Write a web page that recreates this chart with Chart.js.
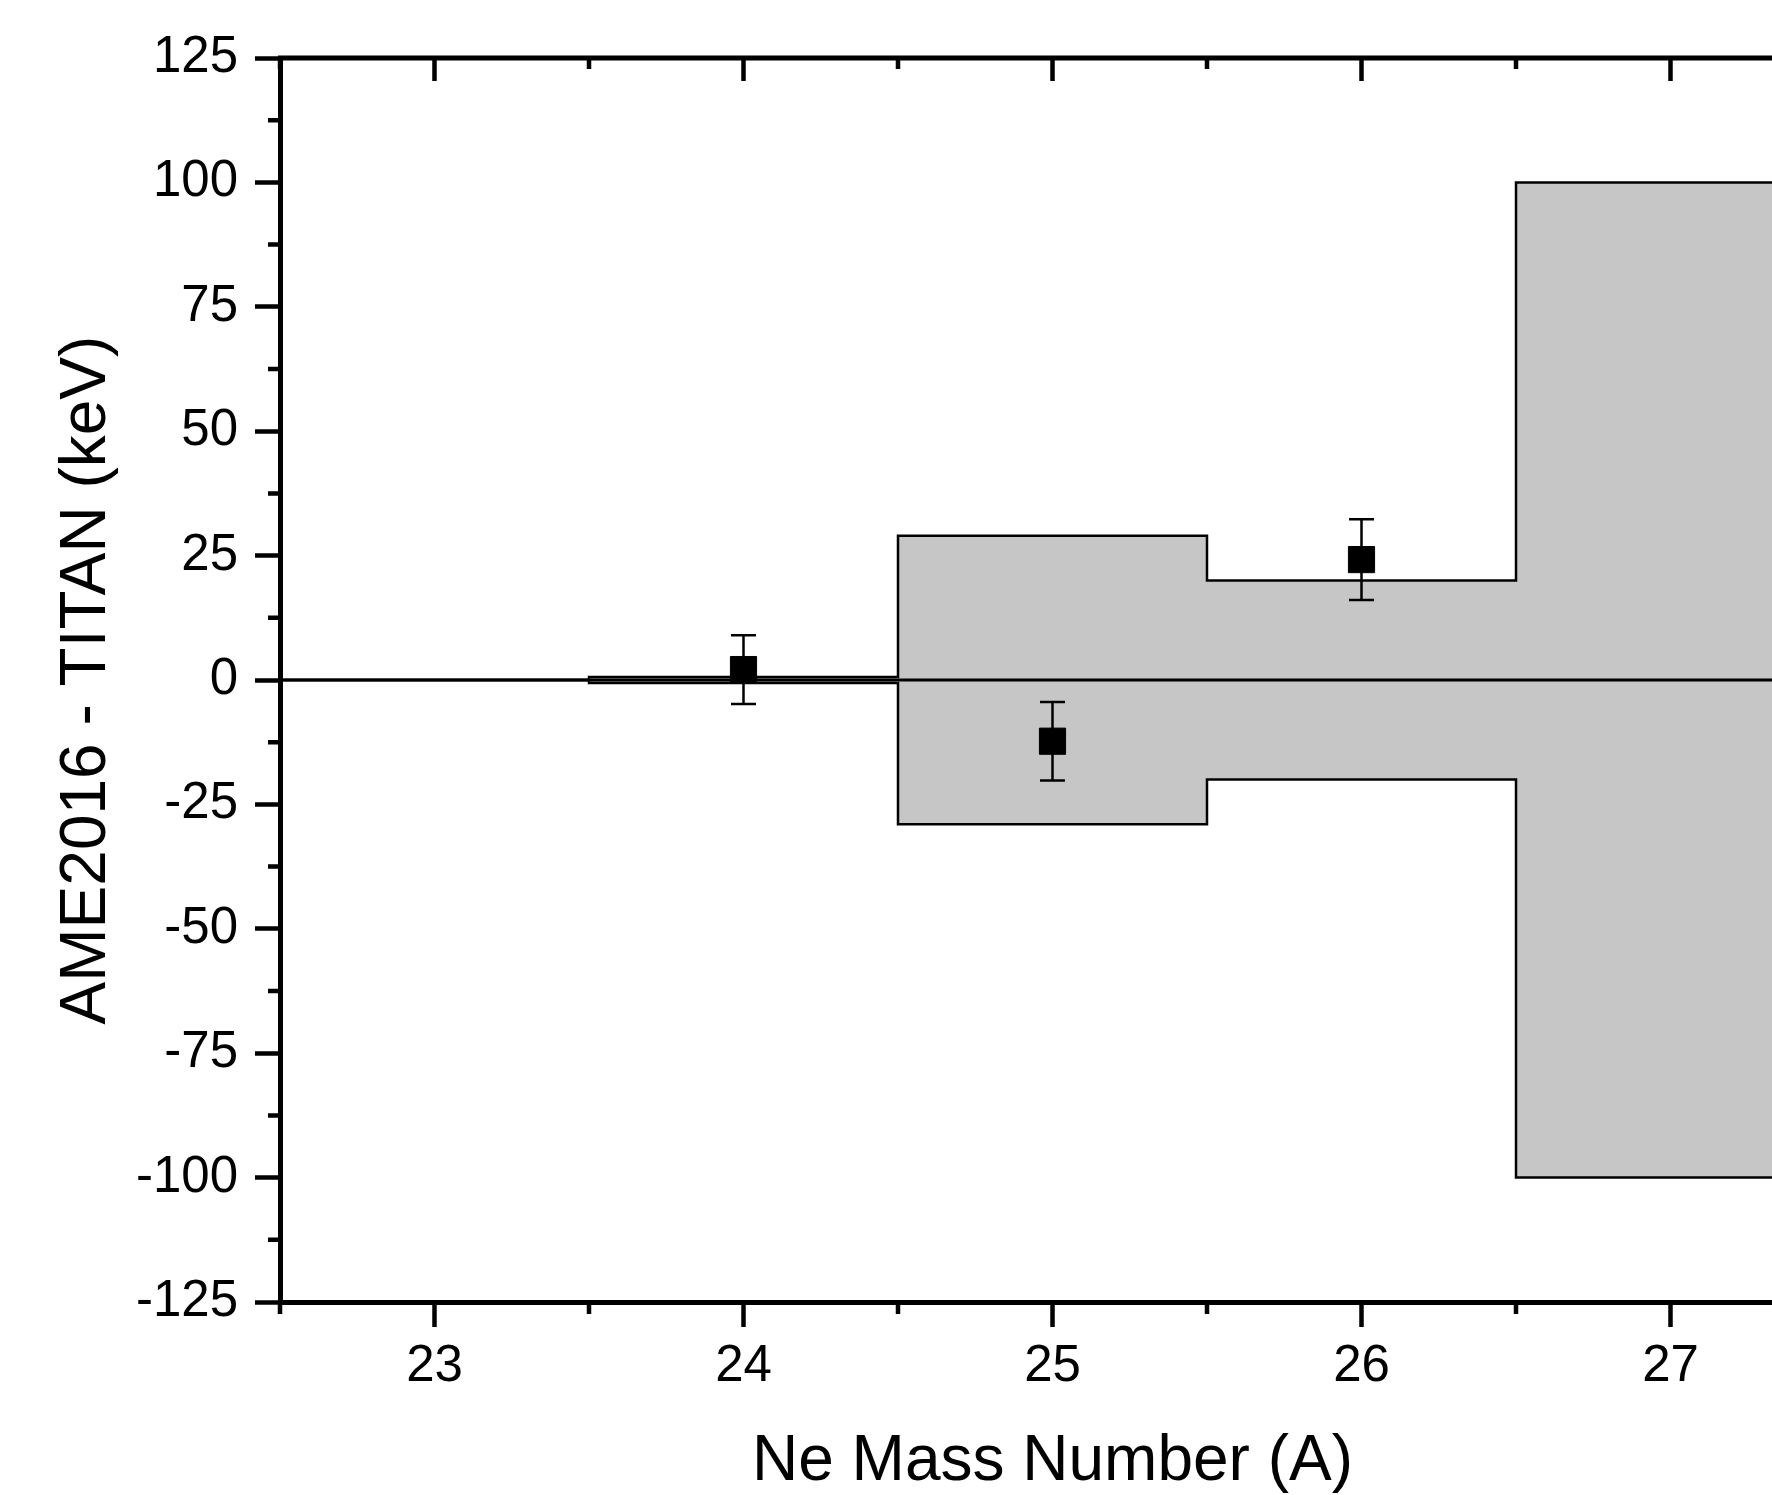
<!DOCTYPE html>
<html><head><meta charset="utf-8">
<script src="https://cdn.jsdelivr.net/npm/chart.js@4.4.1/dist/chart.umd.min.js"></script>
<style>
html,body{margin:0;padding:0;overflow:hidden;background:#fff;width:1772px;height:1495px;}
#wrap{position:relative;width:1900px;height:1495px;}
</style></head><body>
<div id="wrap"><canvas id="c"></canvas></div>
<script>
// ---- data ----
const massNumbers = [24, 25, 26];
const deltaValues = [2.1, -12.3, 24.2];
const deltaErrors = [6.9, 7.9, 8.1];
const binEdges = [22.5, 23.5, 24.5, 25.5, 26.5, 27.5];
const ameUncertainty = [0, 0.6, 29, 20, 100];
const xTickValues = [23, 24, 25, 26, 27];
const yTickValues = [-125, -100, -75, -50, -25, 0, 25, 50, 75, 100, 125];
const xTitle = 'Ne Mass Number (A)';
const yTitle = 'AME2016 - TITAN (keV)';

// ---- derived tables ----
const upperBand = binEdges.map((e, i) => ({x: e, y: ameUncertainty[Math.min(i, ameUncertainty.length - 1)]}));
const lowerBand = binEdges.map((e, i) => ({x: e, y: -ameUncertainty[Math.min(i, ameUncertainty.length - 1)]}));
const zeroLine = [{x: binEdges[0], y: 0}, {x: binEdges[binEdges.length - 1], y: 0}];
const points = massNumbers.map((m, i) => ({x: m, y: deltaValues[i]}));

const FONT = "'Liberation Sans', Arial, sans-serif";

function minorValues(majors, min, max) {
  const step = majors[1] - majors[0];
  const out = [];
  const start = majors[0] - step / 2;
  for (let v = start; v <= max + 1e-9; v += step) {
    if (v >= min - 1e-9) out.push(v);
  }
  return out;
}

const errorBarPlugin = {
  id: 'errorBars',
  afterDatasetsDraw(chart) {
    const {ctx, scales: {x, y}} = chart;
    ctx.save();
    ctx.strokeStyle = '#000';
    ctx.lineWidth = 2.5;
    massNumbers.forEach((m, i) => {
      const px = x.getPixelForValue(m);
      const top = y.getPixelForValue(deltaValues[i] + deltaErrors[i]);
      const bot = y.getPixelForValue(deltaValues[i] - deltaErrors[i]);
      ctx.beginPath();
      ctx.moveTo(px, top); ctx.lineTo(px, bot);
      ctx.moveTo(px - 12.5, top); ctx.lineTo(px + 12.5, top);
      ctx.moveTo(px - 12.5, bot); ctx.lineTo(px + 12.5, bot);
      ctx.stroke();
    });
    ctx.restore();
  }
};

const frameTicksPlugin = {
  id: 'frameTicks',
  afterDraw(chart) {
    const {ctx, chartArea: a, scales: {x, y}} = chart;
    ctx.save();
    ctx.strokeStyle = '#000';
    ctx.lineWidth = 5;
    ctx.beginPath();
    ctx.moveTo(a.left - 2, a.top); ctx.lineTo(a.right + 2, a.top);
    ctx.moveTo(a.right, a.top); ctx.lineTo(a.right, a.bottom + 2);
    ctx.stroke();
    ctx.lineWidth = 4.5;
    ctx.beginPath();
    // top axis major ticks (inward)
    xTickValues.forEach(v => {
      const px = x.getPixelForValue(v);
      ctx.moveTo(px, a.top); ctx.lineTo(px, a.top + 23);
    });
    // x minor ticks
    minorValues(xTickValues, x.min, x.max).forEach(v => {
      const px = x.getPixelForValue(v);
      ctx.moveTo(px, a.top); ctx.lineTo(px, a.top + 11);
      ctx.moveTo(px, a.bottom); ctx.lineTo(px, a.bottom + 12);
    });
    // y minor ticks
    minorValues(yTickValues, y.min, y.max).forEach(v => {
      const py = y.getPixelForValue(v);
      ctx.moveTo(a.left, py); ctx.lineTo(a.left - 12, py);
    });
    ctx.stroke();
    ctx.restore();
  }
};

new Chart(document.getElementById('c'), {
  type: 'scatter',
  data: {
    datasets: [
      {
        data: points, showLine: false, pointStyle: 'rect', pointRadius: 18.5,
        pointBackgroundColor: '#000', pointBorderColor: '#000', pointBorderWidth: 1
      },
      {
        data: zeroLine, showLine: true, borderColor: '#000', borderWidth: 3,
        pointRadius: 0, fill: false
      },
      {
        data: upperBand, showLine: true, stepped: true, borderColor: '#000', borderWidth: 2.5,
        pointRadius: 0, fill: false
      },
      {
        data: lowerBand, showLine: true, stepped: true, borderColor: '#000', borderWidth: 2.5,
        pointRadius: 0, fill: '-1', backgroundColor: '#c6c6c6'
      }
    ]
  },
  options: {
    responsive: true,
    maintainAspectRatio: false,
    devicePixelRatio: 1,
    animation: false,
    layout: {padding: {top: 58, right: 75, left: 0, bottom: 0}},
    plugins: {legend: {display: false}, tooltip: {enabled: false}},
    scales: {
      x: {
        type: 'linear', position: 'bottom', min: 22.5, max: 27.5,
        afterBuildTicks: s => { s.ticks = xTickValues.map(v => ({value: v})); },
        afterFit: s => { s.height = 193; },
        ticks: {
          color: '#000', font: {family: FONT, size: 51}, padding: 9,
          maxRotation: 0, autoSkip: false
        },
        grid: {
          display: true, drawOnChartArea: false, drawTicks: true,
          tickLength: 25, tickWidth: 4.5, tickColor: '#000'
        },
        border: {display: true, color: '#000', width: 5},
        title: {
          display: true, text: xTitle, color: '#000',
          font: {family: FONT, size: 64, lineHeight: 1}, padding: {top: 0, bottom: 1}
        }
      },
      y: {
        type: 'linear', position: 'left', min: -125, max: 125,
        afterBuildTicks: s => { s.ticks = yTickValues.map(v => ({value: v})); },
        afterFit: s => { s.width = 280; },
        ticks: {color: '#000', font: {family: FONT, size: 51}, padding: 17},
        grid: {
          display: true, drawOnChartArea: false, drawTicks: true,
          tickLength: 25, tickWidth: 4.5, tickColor: '#000'
        },
        border: {display: true, color: '#000', width: 5},
        title: {
          display: true, text: yTitle, color: '#000',
          font: {family: FONT, size: 64, lineHeight: 1}, padding: {top: 55, bottom: 0}
        }
      }
    }
  },
  plugins: [errorBarPlugin, frameTicksPlugin]
});
</script>
</body></html>
